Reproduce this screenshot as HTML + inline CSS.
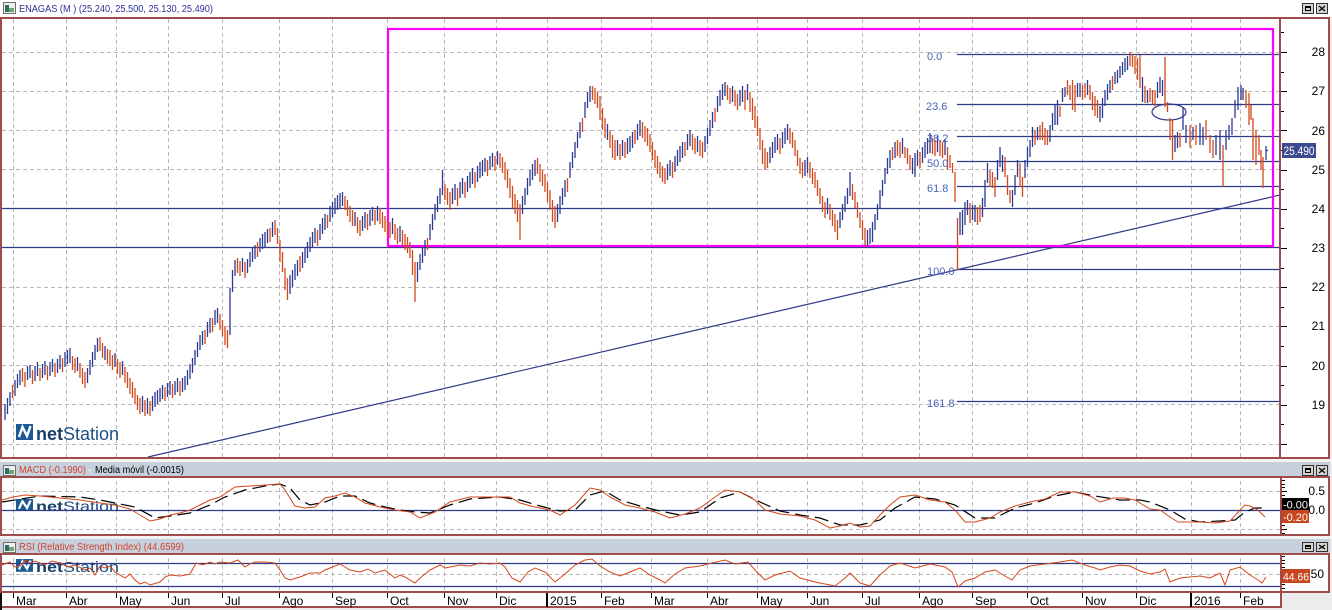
<!DOCTYPE html>
<html><head><meta charset="utf-8">
<style>
html,body{margin:0;padding:0;background:#ececec;}
svg{display:block;font-family:"Liberation Sans",Arial,sans-serif;}
.u{stroke:#2b3990;stroke-width:1.3;fill:none}
.o{stroke:#d4471a;stroke-width:1.3;fill:none}
</style></head>
<body>
<svg width="1332" height="610" viewBox="0 0 1332 610" xmlns="http://www.w3.org/2000/svg">
<defs>
<clipPath id="cm"><rect x="2" y="19" width="1278" height="438"/></clipPath>
<clipPath id="cd"><rect x="2" y="478" width="1278" height="56"/></clipPath>
<clipPath id="cr"><rect x="2" y="555" width="1278" height="36"/></clipPath>
</defs>
<rect width="1332" height="610" fill="#ececec"/>
<rect x="1" y="18" width="1328" height="440" fill="#fff"/>
<rect x="1" y="477" width="1328" height="58" fill="#fff"/>
<rect x="1" y="554" width="1328" height="38" fill="#fff"/>
<rect x="1" y="593" width="1280" height="14" fill="#fff"/>
<path d="M13.5 19V591M66.5 19V591M116.5 19V591M168.5 19V591M222.5 19V591M279.5 19V591M332.5 19V591M387.5 19V591M444.5 19V591M496.5 19V591M547.5 19V591M601.5 19V591M651.5 19V591M707.5 19V591M757.5 19V591M807.5 19V591M862.5 19V591M919.5 19V591M972.5 19V591M1027.5 19V591M1082.5 19V591M1136.5 19V591M1191.5 19V591M1240.5 19V591" stroke="#b9b9b9" stroke-width="1" stroke-dasharray="4,3" fill="none"/>
<path d="M2 52.5H1280M2 91.5H1280M2 130.5H1280M2 169.5H1280M2 208.5H1280M2 247.5H1280M2 287.5H1280M2 326.5H1280M2 365.5H1280M2 404.5H1280M2 444.5H1280M2 491.5H1280M2 529.5H1280M2 574.5H1280" stroke="#b9b9b9" stroke-width="1" stroke-dasharray="4,3" fill="none"/>
<rect x="0" y="0" width="1332" height="17" fill="#fff"/>
<rect x="0" y="459" width="1332" height="3" fill="#f2f2f2"/>
<rect x="0" y="462" width="1330" height="14" fill="#c6d1dd"/>
<rect x="0" y="536" width="1332" height="3" fill="#f2f2f2"/>
<rect x="0" y="539" width="1330" height="14" fill="#c6d1dd"/>
<g>
<rect x="16" y="424" width="17" height="16" fill="#1d5a94"/>
<path d="M19 437L22.5 427L27 436L30.5 426" stroke="#fff" stroke-width="2.4" fill="none"/>
<text x="36" y="440" font-size="18" fill="#1e4f80"><tspan font-weight="bold" fill="#173d6b">net</tspan>Station</text>
</g>
<g transform="translate(0,499) scale(1,0.75) translate(0,-424)">
<rect x="16" y="424" width="17" height="16" fill="#1d5a94"/>
<path d="M19 437L22.5 427L27 436L30.5 426" stroke="#fff" stroke-width="2.4" fill="none"/>
<text x="36" y="440" font-size="18" fill="#1e4f80"><tspan font-weight="bold" fill="#173d6b">net</tspan>Station</text>
</g>
<g transform="translate(0,559) scale(1,0.8) translate(0,-424)">
<rect x="16" y="424" width="17" height="16" fill="#1d5a94"/>
<path d="M19 437L22.5 427L27 436L30.5 426" stroke="#fff" stroke-width="2.4" fill="none"/>
<text x="36" y="440" font-size="18" fill="#1e4f80"><tspan font-weight="bold" fill="#173d6b">net</tspan>Station</text>
</g>
<g clip-path="url(#cm)" fill="none">
<path d="M2 208.5H1280M2 247.5H1280" stroke="#2e3a87" stroke-width="1.2"/>
<path d="M957 54.5H1280M957 104.5H1280M957 136.5H1280M957 161.5H1280M957 186.5H1280M957 269.5H1280M957 401.5H1280" stroke="#2e3a87" stroke-width="1.2"/>
<path d="M148 457L1280 195" stroke="#2e3a87" stroke-width="1.2"/>
<ellipse cx="1169" cy="112" rx="17" ry="8" stroke="#2e3a87" stroke-width="1.2"/>
<rect x="388" y="29" width="885" height="217" stroke="#ff00ff" stroke-width="2.2"/>
<path class="u" d="M5 404V420M7.5 398V414M10 392V406"/>
<path class="o" d="M12.5 385V398"/>
<path class="u" d="M15 380V396M17.5 374V388M20 370V385"/>
<path class="o" d="M22.5 368V382M25 372V387"/>
<path class="u" d="M27.5 366V380M30 365V378"/>
<path class="o" d="M32.5 370V384"/>
<path class="u" d="M35 366V381M37.5 362V376"/>
<path class="o" d="M40 368V381"/>
<path class="u" d="M42.5 364V378M45 361V375"/>
<path class="o" d="M47.5 366V380"/>
<path class="u" d="M50 362V376M52.5 359V372"/>
<path class="o" d="M55 363V377"/>
<path class="u" d="M57.5 359V373M60 355V369"/>
<path class="o" d="M62.5 358V372"/>
<path class="u" d="M65 352V367M67.5 350V364M70 348V363"/>
<path class="o" d="M72.5 356V370M75 358V373"/>
<path class="u" d="M77.5 357V371"/>
<path class="o" d="M80 363V378M82.5 368V384M85 372V388"/>
<path class="u" d="M87.5 368V383M90 360V375M92.5 352V367M95 345V360M97.5 338V352"/>
<path class="o" d="M100 337V351M102.5 343V358"/>
<path class="u" d="M105 346V360"/>
<path class="o" d="M107.5 349V364M110 350V366M112.5 355V370"/>
<path class="u" d="M115 353V367"/>
<path class="o" d="M117.5 359V374M120 362V378"/>
<path class="u" d="M122.5 361V375"/>
<path class="o" d="M125 367V383M127.5 372V388M130 378V394M132.5 382V398M135 388V404M137.5 395V410M140 398V414"/>
<path class="u" d="M142.5 396V412"/>
<path class="o" d="M145 400V416"/>
<path class="u" d="M147.5 398V414"/>
<path class="o" d="M150 401V416"/>
<path class="u" d="M152.5 396V411M155 392V407M157.5 390V404M160 388V402M162.5 385V399"/>
<path class="o" d="M165 387V401"/>
<path class="u" d="M167.5 383V397M170 381V395"/>
<path class="o" d="M172.5 384V398"/>
<path class="u" d="M175 381V395M177.5 378V392"/>
<path class="o" d="M180 381V396"/>
<path class="u" d="M182.5 378V392M185 376V390M187.5 370V385M190 364V379M192.5 358V373M195 350V365M197.5 342V357M200 335V350M202.5 331V345"/>
<path class="o" d="M205 330V344"/>
<path class="u" d="M207.5 322V337M210 318V333"/>
<path class="o" d="M212.5 318V332"/>
<path class="u" d="M215 310V325M217.5 308V323"/>
<path class="o" d="M220 314V330M222.5 320V336M225 326V345M227.5 330V348"/>
<path class="u" d="M230 288V335M232.5 270V292M235 260V276"/>
<path class="o" d="M237.5 258V273M240 261V276"/>
<path class="u" d="M242.5 258V272"/>
<path class="o" d="M245 262V278"/>
<path class="u" d="M247.5 259V273M250 252V267M252.5 248V262M255 245V259"/>
<path class="o" d="M257.5 242V257"/>
<path class="u" d="M260 238V252M262.5 234V249M265 232V247M267.5 229V243"/>
<path class="o" d="M270 228V242"/>
<path class="u" d="M272.5 222V237"/>
<path class="o" d="M275 220V235M277.5 228V244M280 240V262M282.5 252V272M285 268V290M287.5 278V300"/>
<path class="u" d="M290 275V294M292.5 270V287M295 264V280M297.5 260V276"/>
<path class="o" d="M300 256V272"/>
<path class="u" d="M302.5 252V268M305 247V263M307.5 242V258M310 237V252M312.5 232V248M315 228V243"/>
<path class="o" d="M317.5 230V246"/>
<path class="u" d="M320 224V240M322.5 218V234M325 214V230"/>
<path class="o" d="M327.5 215V228"/>
<path class="u" d="M330 206V222M332.5 202V217M335 198V214M337.5 195V210M340 193V208M342.5 192V206"/>
<path class="o" d="M345 196V210M347.5 200V216M350 206V222M352.5 210V226"/>
<path class="u" d="M355 212V226"/>
<path class="o" d="M357.5 217V233M360 220V236"/>
<path class="u" d="M362.5 216V231M365 212V228"/>
<path class="o" d="M367.5 214V230"/>
<path class="u" d="M370 210V226M372.5 207V221"/>
<path class="o" d="M375 210V225"/>
<path class="u" d="M377.5 206V221"/>
<path class="o" d="M380 208V224M382.5 212V228M385 216V232M387.5 220V236M390 222V238"/>
<path class="u" d="M392.5 218V234"/>
<path class="o" d="M395 224V240M397.5 228V244"/>
<path class="u" d="M400 226V242"/>
<path class="o" d="M402.5 230V246M405 234V250M407.5 237V253M410 242V258M412.5 250V275M415 262V302"/>
<path class="u" d="M417.5 262V282M420 254V270M422.5 247V263M425 240V256"/>
<path class="o" d="M427.5 238V250"/>
<path class="u" d="M430 224V240M432.5 214V230M435 204V220M437.5 196V212M440 188V204M442.5 170V195"/>
<path class="o" d="M445 184V200M447.5 188V205M450 192V210"/>
<path class="u" d="M452.5 188V204M455 184V200"/>
<path class="o" d="M457.5 188V206"/>
<path class="u" d="M460 182V198M462.5 178V194"/>
<path class="o" d="M465 182V198"/>
<path class="u" d="M467.5 176V192M470 172V188M472.5 168V184"/>
<path class="o" d="M475 172V188"/>
<path class="u" d="M477.5 166V182M480 162V178M482.5 160V176M485 158V172"/>
<path class="o" d="M487.5 160V176"/>
<path class="u" d="M490 156V170M492.5 153V167"/>
<path class="o" d="M495 156V171"/>
<path class="u" d="M497.5 151V165"/>
<path class="o" d="M500 153V168M502.5 157V173M505 162V180M507.5 170V188M510 178V198M512.5 186V208M515 194V214M517.5 200V222M520 204V240"/>
<path class="u" d="M522.5 196V214M525 188V205M527.5 178V195M530 170V186M532.5 164V180M535 160V176"/>
<path class="o" d="M537.5 158V174M540 164V182M542.5 170V186M545 174V192M547.5 182V202M550 190V210M552.5 200V222M555 206V228"/>
<path class="u" d="M557.5 204V222M560 196V214M562.5 188V205M565 180V197"/>
<path class="o" d="M567.5 178V192"/>
<path class="u" d="M570 162V178M572.5 152V168M575 142V158M577.5 132V148M580 122V138"/>
<path class="o" d="M582.5 118V132"/>
<path class="u" d="M585 102V118M587.5 92V108M590 86V102"/>
<path class="o" d="M592.5 86V100M595 88V104M597.5 92V108M600 96V120M602.5 108V130M605 118V138"/>
<path class="u" d="M607.5 124V140"/>
<path class="o" d="M610 130V148M612.5 135V158M615 140V160"/>
<path class="u" d="M617.5 140V156"/>
<path class="o" d="M620 144V160"/>
<path class="u" d="M622.5 140V156"/>
<path class="o" d="M625 142V158"/>
<path class="u" d="M627.5 138V154M630 136V152M632.5 132V148"/>
<path class="o" d="M635 130V144"/>
<path class="u" d="M637.5 124V140M640 120V136"/>
<path class="o" d="M642.5 122V138M645 126V142M647.5 128V146M650 134V152M652.5 142V160M655 150V168M657.5 156V174M660 162V178M662.5 166V182M665 168V184"/>
<path class="u" d="M667.5 164V180M670 160V176"/>
<path class="o" d="M672.5 162V178"/>
<path class="u" d="M675 156V172M677.5 150V166M680 146V162M682.5 142V158"/>
<path class="o" d="M685 142V156"/>
<path class="u" d="M687.5 134V150M690 130V146"/>
<path class="o" d="M692.5 134V150M695 138V154"/>
<path class="u" d="M697.5 136V152"/>
<path class="o" d="M700 140V156M702.5 142V158"/>
<path class="u" d="M705 136V152M707.5 128V144M710 120V136M712.5 112V128"/>
<path class="o" d="M715 108V122"/>
<path class="u" d="M717.5 96V112M720 90V106M722.5 84V100M725 82V96"/>
<path class="o" d="M727.5 85V100M730 88V104"/>
<path class="u" d="M732.5 86V102"/>
<path class="o" d="M735 90V106M737.5 94V110"/>
<path class="u" d="M740 90V106M742.5 86V102"/>
<path class="o" d="M745 90V110"/>
<path class="u" d="M747.5 84V100"/>
<path class="o" d="M750 92V112M752.5 98V120M755 106V128M757.5 116V136M760 128V150M762.5 140V164M765 148V170M767.5 152V168"/>
<path class="u" d="M770 147V163M772.5 142V158M775 137V153M777.5 134V150"/>
<path class="o" d="M780 138V154"/>
<path class="u" d="M782.5 132V148M785 128V144M787.5 124V140"/>
<path class="o" d="M790 128V144M792.5 132V148M795 140V156M797.5 150V166M800 158V174M802.5 162V178"/>
<path class="u" d="M805 160V176M807.5 157V173"/>
<path class="o" d="M810 162V178M812.5 168V184M815 172V188M817.5 180V196M820 188V204M822.5 196V212M825 202V218"/>
<path class="u" d="M827.5 198V214"/>
<path class="o" d="M830 204V220M832.5 210V226M835 214V232M837.5 220V240"/>
<path class="u" d="M840 212V228M842.5 204V220M845 196V212M847.5 188V204M850 172V196"/>
<path class="o" d="M852.5 184V200M855 192V208M857.5 202V218M860 212V228M862.5 220V240M865 228V246"/>
<path class="u" d="M867.5 230V246M870 228V244M872.5 222V242M875 214V230M877.5 204V220M880 190V208M882.5 180V196M885 168V184M887.5 158V174M890 150V168"/>
<path class="o" d="M892.5 147V160"/>
<path class="u" d="M895 142V158"/>
<path class="o" d="M897.5 140V156M900 142V158"/>
<path class="u" d="M902.5 138V154"/>
<path class="o" d="M905 147V158M907.5 148V164M910 155V170"/>
<path class="u" d="M912.5 158V174M915 153V177M917.5 150V166"/>
<path class="o" d="M920 152V168"/>
<path class="u" d="M922.5 147V163M925 142V158M927.5 138V154M930 133V153"/>
<path class="o" d="M932.5 138V154M935 140V156"/>
<path class="u" d="M937.5 136V152"/>
<path class="o" d="M940 140V156M942.5 142V158"/>
<path class="u" d="M945 139V155"/>
<path class="o" d="M947.5 147V170M950 155V168M952.5 163V173M955 172V202M957.5 218V270"/>
<path class="u" d="M960 212V235M962.5 210V235M965 202V225M967.5 200V215"/>
<path class="o" d="M970 203V223"/>
<path class="u" d="M972.5 205V220M975 205V222"/>
<path class="o" d="M977.5 207V225M980 205V222"/>
<path class="u" d="M982.5 198V217M985 180V207M987.5 163V183"/>
<path class="o" d="M990 170V187M992.5 172V188M995 177V197"/>
<path class="u" d="M997.5 160V180M1000 147V167M1002.5 155V172"/>
<path class="o" d="M1005 157V177M1007.5 175V195M1010 190V203"/>
<path class="u" d="M1012.5 190V207M1015 175V195M1017.5 160V177"/>
<path class="o" d="M1020 163V187M1022.5 177V197"/>
<path class="u" d="M1025 160V178M1027.5 147V167M1030 140V157M1032.5 127V147"/>
<path class="o" d="M1035 130V145"/>
<path class="u" d="M1037.5 127V140"/>
<path class="o" d="M1040 125V140M1042.5 122V140M1045 128V145M1047.5 130V145"/>
<path class="u" d="M1050 125V142M1052.5 113V130M1055 105V125M1057.5 100V125"/>
<path class="o" d="M1060 106V117"/>
<path class="u" d="M1062.5 88V102M1065 87V97"/>
<path class="o" d="M1067.5 80V95M1070 85V100M1072.5 80V110M1075 85V112"/>
<path class="u" d="M1077.5 83V97M1080 83V97"/>
<path class="o" d="M1082.5 85V100M1085 83V98"/>
<path class="u" d="M1087.5 80V95"/>
<path class="o" d="M1090 85V100M1092.5 92V110M1095 96V116M1097.5 100V118"/>
<path class="u" d="M1100 106V122M1102.5 98V118M1105 90V106M1107.5 84V100M1110 80V93"/>
<path class="o" d="M1112.5 76V90"/>
<path class="u" d="M1115 72V84M1117.5 70V83M1120 66V78M1122.5 62V75M1125 58V72M1127.5 56V70"/>
<path class="o" d="M1130 52V66M1132.5 54V67M1135 56V74M1137.5 58V80M1140 55V88"/>
<path class="u" d="M1142.5 77V102"/>
<path class="o" d="M1145 86V103"/>
<path class="u" d="M1147.5 90V103"/>
<path class="o" d="M1150 88V102M1152.5 90V104M1155 90V106"/>
<path class="u" d="M1157.5 82V98M1160 77V93M1162.5 80V96"/>
<path class="o" d="M1165 57V107M1167.5 102V112M1170 118V140M1172.5 120V160"/>
<path class="u" d="M1175 135V152M1177.5 132V148"/>
<path class="o" d="M1180 133V147"/>
<path class="u" d="M1183 107V130M1186 125V143"/>
<path class="o" d="M1190 125V148"/>
<path class="u" d="M1193 127V140"/>
<path class="o" d="M1196 125V145"/>
<path class="u" d="M1200 123V145M1203 127V145"/>
<path class="o" d="M1206 120V140M1210 135V153M1213 140V158"/>
<path class="u" d="M1216 135V155M1220 130V160"/>
<path class="o" d="M1223 145V187"/>
<path class="u" d="M1226 130V150M1229 125V140M1232 118V135M1235 100V118M1238 87V110M1241 85V100M1243 88V100"/>
<path class="o" d="M1246 90V108M1249 93V125M1251 105V120M1253 118V160M1256 130V165M1259 135V155M1261 150V170M1263 157V188"/>
<path class="u" d="M1266 146V160M1266 150.5h2"/>
</g>
<g font-size="11" fill="#4a63b8">
<text x="927" y="60">0.0</text>
<text x="926" y="110">23.6</text>
<text x="927" y="142">38.2</text>
<text x="927" y="167">50.0</text>
<text x="927" y="192">61.8</text>
<text x="927" y="275">100.0</text>
<text x="927" y="407">161.8</text>
</g>
<g clip-path="url(#cd)" fill="none">
<path d="M2 510.5H1280" stroke="#2e3a87" stroke-width="1.2"/>
<polyline stroke="#000" stroke-width="1.2" stroke-dasharray="14,6" points="2,502 40,496 80,497 100,500 120,504 135,507 155,518 170,516 190,513 210,505 225,497 245,490 265,486 280,484 290,488 300,500 310,505 325,502 340,496 355,496 370,503 385,507 400,510 415,512 430,513 450,505 470,499 500,497 520,500 540,506 560,511 575,510 590,495 605,491 620,500 640,506 660,511 680,515 700,512 720,498 740,492 760,502 780,511 800,515 820,518 840,525 860,525 880,520 895,508 915,497 935,499 955,505 975,518 995,518 1015,508 1035,503 1055,496 1075,492 1095,496 1120,500 1140,500 1150,502 1170,510 1185,519 1200,522 1220,521 1235,520 1245,512 1255,508 1262,508"/>
<polyline stroke="#d4471a" stroke-width="1" points="2,500 13,497 25,495 40,496 60,498 80,500 100,503 115,505 130,509 140,515 150,521 160,519 170,515 180,513 190,510 200,505 210,500 220,497 235,487 250,486 265,485 280,484 285,490 295,506 305,508 315,507 325,498 335,496 345,493 355,497 365,503 380,507 395,510 410,512 420,518 435,512 450,502 470,497 490,497 510,497 520,503 535,507 550,510 560,515 575,505 590,488 600,490 610,497 625,505 640,508 655,512 670,518 685,514 700,508 715,497 725,490 740,492 755,500 765,510 780,514 800,516 815,520 830,528 840,526 850,523 860,527 870,526 880,515 890,505 900,497 915,495 930,500 945,502 955,510 965,522 975,522 990,518 1000,512 1015,506 1030,502 1045,499 1060,492 1075,492 1090,496 1100,502 1113,498 1125,498 1135,500 1150,509 1160,510 1170,517 1178,522 1190,522 1200,522 1215,523 1230,521 1240,510 1245,505 1250,506 1258,510 1265,517"/>
</g>
<g clip-path="url(#cr)" fill="none">
<path d="M2 563.5H1280M2 586.5H1280" stroke="#2e3a87" stroke-width="1.2"/>
<polyline stroke="#d4471a" stroke-width="1" points="2,565 10,562 15,567 20,566 25,560 30,563 35,561 45,565 52,561 60,563 68,567 75,565 85,570 90,568 95,575 100,566 105,568 110,566 115,572 125,578 130,574 135,580 140,584 145,582 150,585 160,582 165,577 170,575 180,576 190,574 196,563 203,565 210,562 215,564 220,562 230,563 238,560 245,567 250,564 255,562 265,562 275,563 280,570 285,578 290,580 300,577 305,575 310,573 320,573 325,570 330,568 340,564 345,567 350,570 360,572 368,569 375,573 385,570 395,578 400,575 405,577 415,583 420,578 430,570 440,565 445,568 450,567 460,565 470,566 480,563 490,564 500,563 505,567 512,578 520,582 528,572 535,568 545,572 555,582 565,574 575,565 585,560 592,559 600,566 610,572 620,576 630,572 640,568 650,575 660,580 665,583 675,574 685,568 700,566 712,563 725,560 735,564 748,562 755,570 765,580 775,575 790,571 800,578 815,582 825,584 835,586 845,578 850,573 860,583 870,586 880,575 890,566 900,563 915,568 930,564 945,567 952,572 958,587 965,581 975,578 985,572 995,570 1005,576 1012,580 1020,570 1030,566 1045,564 1060,562 1072,560 1085,565 1095,568 1100,570 1110,567 1120,565 1130,566 1140,571 1150,574 1160,572 1165,569 1170,582 1180,578 1190,577 1200,576 1210,578 1220,573 1225,585 1230,570 1240,567 1250,575 1258,580 1262,583 1266,577"/>
</g>
<g fill="none" stroke="#a04c4c" stroke-width="2">
<rect x="1" y="18" width="1328" height="440"/>
<path d="M1280 18V458"/>
<rect x="1" y="477" width="1328" height="58"/>
<path d="M1281 477V535"/>
<rect x="1" y="554" width="1328" height="38"/>
<path d="M1281 554V592"/>
<path d="M1 607H1281V592"/>
</g>
<rect x="0" y="593" width="2" height="17" fill="#111"/>
<g stroke="#707070" stroke-width="1">
<rect x="3.5" y="2.5" width="12" height="11" fill="#eee"/>
<rect x="3.5" y="465.5" width="12" height="10" fill="#eee"/>
<rect x="3.5" y="542.5" width="12" height="10" fill="#eee"/>
</g>
<rect x="5" y="5" width="4" height="7" fill="#2e6e6e"/><rect x="9" y="8" width="5" height="4" fill="#6fa86f"/>
<rect x="5" y="468" width="4" height="6" fill="#2e6e6e"/><rect x="9" y="470" width="5" height="4" fill="#6fa86f"/>
<rect x="5" y="545" width="4" height="6" fill="#2e6e6e"/><rect x="9" y="547" width="5" height="4" fill="#6fa86f"/>
<text x="19" y="12" font-size="10" fill="#2e3192" textLength="194" lengthAdjust="spacingAndGlyphs">ENAGAS (M ) (25.240, 25.500, 25.130, 25.490)</text>
<text x="19" y="473" font-size="10" fill="#d2412a" textLength="67" lengthAdjust="spacingAndGlyphs">MACD (-0.1990)</text>
<text x="88" y="473" font-size="10" fill="#fff">-</text>
<text x="95" y="473" font-size="10" fill="#000" textLength="89" lengthAdjust="spacingAndGlyphs">Media móvil (-0.0015)</text>
<text x="19" y="550" font-size="10" fill="#d2412a" textLength="165" lengthAdjust="spacingAndGlyphs">RSI (Relative Strength Index) (44.6599)</text>
<g stroke="#333" stroke-width="1" fill="#d6d3ce">
<rect x="1302.5" y="3.5" width="11" height="10"/><rect x="1316.5" y="3.5" width="11" height="10"/>
<rect x="1302.5" y="465.5" width="11" height="10"/><rect x="1316.5" y="465.5" width="11" height="10"/>
<rect x="1302.5" y="542.5" width="11" height="9"/><rect x="1316.5" y="542.5" width="11" height="9"/>
</g>
<g fill="#000">
<rect x="1305" y="6" width="6" height="5"/><rect x="1305" y="468" width="6" height="5"/><rect x="1305" y="545" width="6" height="4"/>
</g>
<g fill="#d6d3ce"><rect x="1306" y="8" width="4" height="2"/><rect x="1306" y="470" width="4" height="2"/><rect x="1306" y="547" width="4" height="1"/></g>
<path d="M1319 6L1325 11M1325 6L1319 11M1319 468L1325 473M1325 468L1319 473M1319 545L1325 549M1325 545L1319 549" stroke="#000" stroke-width="1.2"/>
<path d="M1281 52.5h6M1281 91.5h6M1281 130.5h6M1281 170.5h6M1281 209.5h6M1281 248.5h6M1281 287.5h6M1281 326.5h6M1281 366.5h6M1281 405.5h6M1281 444.5h6M1281 32.5h3M1281 72.5h3M1281 111.5h3M1281 150.5h3M1281 189.5h3M1281 228.5h3M1281 268.5h3M1281 307.5h3M1281 346.5h3M1281 385.5h3M1281 424.5h3M1282 480.5h3M1282 484.5h3M1282 487.5h3M1282 491.5h5M1282 495.5h3M1282 499.5h3M1282 502.5h3M1282 506.5h3M1282 510.5h5M1282 514.5h3M1282 518.5h3M1282 521.5h3M1282 525.5h3M1282 529.5h5M1282 533.5h3M1282 556.5h3M1282 560.5h3M1282 563.5h3M1282 567.5h3M1282 570.5h3M1282 574.5h5M1282 577.5h3M1282 581.5h3M1282 584.5h3M1282 588.5h3" stroke="#000" stroke-width="1"/>
<path d="M13.5 593v5M66.5 593v5M116.5 593v5M168.5 593v5M222.5 593v5M279.5 593v5M332.5 593v5M387.5 593v5M444.5 593v5M496.5 593v5M601.5 593v5M651.5 593v5M707.5 593v5M757.5 593v5M807.5 593v5M862.5 593v5M919.5 593v5M972.5 593v5M1027.5 593v5M1082.5 593v5M1136.5 593v5M1240.5 593v5" stroke="#000" stroke-width="1"/>
<path d="M547 593V607M1191 593V607" stroke="#000" stroke-width="2"/>
<g font-size="12" fill="#000" text-anchor="end">
<text x="1325" y="56">28</text>
<text x="1325" y="95">27</text>
<text x="1325" y="135">26</text>
<text x="1325" y="174">25</text>
<text x="1325" y="213">24</text>
<text x="1325" y="252">23</text>
<text x="1325" y="291">22</text>
<text x="1325" y="330">21</text>
<text x="1325" y="370">20</text>
<text x="1325" y="409">19</text>
<text x="1325" y="495">0.5</text>
<text x="1325" y="514">0.0</text>
<text x="1324" y="578">50</text>
</g>
<rect x="1282" y="143" width="34" height="15" fill="#3d4a8f"/>
<text x="1283.5" y="155" font-size="11.5" fill="#fff" textLength="31" lengthAdjust="spacingAndGlyphs">25.490</text>
<rect x="1282" y="498" width="27" height="12" fill="#000"/>
<text x="1283" y="508.5" font-size="11" fill="#fff" textLength="25" lengthAdjust="spacingAndGlyphs">-0.00</text>
<rect x="1282" y="510" width="27" height="13" fill="#c8461e"/>
<text x="1283" y="521" font-size="11" fill="#fff" textLength="25" lengthAdjust="spacingAndGlyphs">-0.20</text>
<rect x="1282" y="569" width="28" height="14" fill="#c8461e"/>
<text x="1283" y="580.5" font-size="11" fill="#fff" textLength="26" lengthAdjust="spacingAndGlyphs">44.66</text>
<g font-size="12" fill="#000">
<text x="16" y="605">Mar</text><text x="69" y="605">Abr</text><text x="119" y="605">May</text><text x="171" y="605">Jun</text>
<text x="225" y="605">Jul</text><text x="282" y="605">Ago</text><text x="335" y="605">Sep</text><text x="390" y="605">Oct</text>
<text x="447" y="605">Nov</text><text x="499" y="605">Dic</text><text x="550" y="605">2015</text><text x="604" y="605">Feb</text>
<text x="654" y="605">Mar</text><text x="710" y="605">Abr</text><text x="760" y="605">May</text><text x="810" y="605">Jun</text>
<text x="865" y="605">Jul</text><text x="922" y="605">Ago</text><text x="975" y="605">Sep</text><text x="1030" y="605">Oct</text>
<text x="1085" y="605">Nov</text><text x="1139" y="605">Dic</text><text x="1194" y="605">2016</text><text x="1243" y="605">Feb</text>
</g>
</svg>
</body></html>
